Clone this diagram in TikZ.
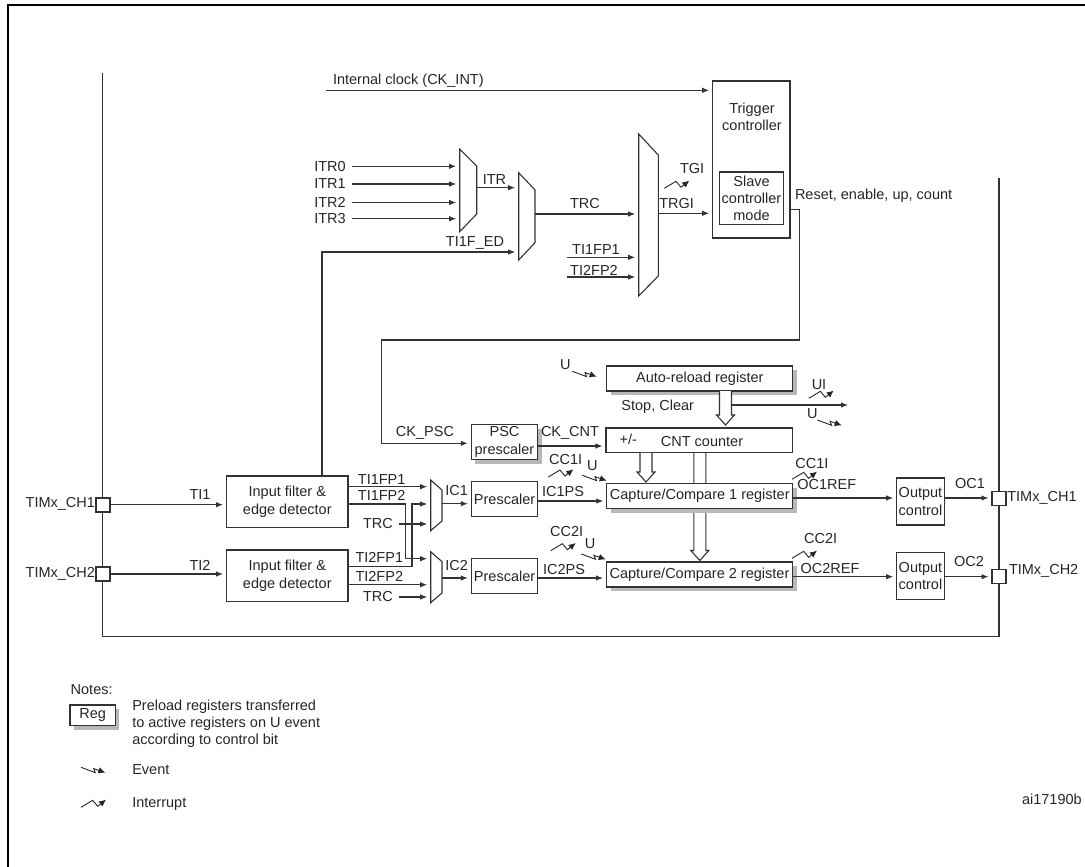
\documentclass[tikz,border=0pt]{standalone}
\usepackage{fontspec}
\setmainfont{Liberation Sans}
\usetikzlibrary{arrows.meta,calc,shadows}
\definecolor{linecol}{gray}{0.2}
\definecolor{shadecol}{gray}{0.72}
\tikzset{
  box/.style={draw=linecol, line width=1.2pt, fill=white, inner sep=0pt, outer sep=0pt, align=center},
  regbox/.style={box, drop shadow={shadow xshift=4pt, shadow yshift=-4pt, fill=shadecol, opacity=1}, minimum width=186pt, minimum height=25pt},
  filterbox/.style={box, minimum width=121.5pt, minimum height=51.7pt},
  prebox/.style={box, minimum width=66.5pt, minimum height=35pt},
  outbox/.style={box, minimum width=47.6pt, minimum height=47pt},
  port/.style={box, minimum width=14pt, minimum height=14pt},
  muxnode/.style={inner sep=0pt, outer sep=0pt},
  lbl/.style={inner sep=0pt, outer sep=0pt, align=center},
  inlbl/.style={lbl, inner xsep=6pt},
  wire/.style={draw=linecol, line width=1.1pt},
  arr/.style={wire, -{Latex[length=7pt,width=5.5pt]}, shorten >=3.5pt},
  hollowarrow/.style={draw=linecol, line width=1.1pt, fill=white, to path={
    let \p1=(\tikztostart), \p2=(\tikztotarget) in
    ({\x1-6pt},\y1) -- ({\x1-6pt},{\y2+10pt}) -- ({\x1-9pt},{\y2+10pt}) -- (\x1,\y2)
    -- ({\x1+9pt},{\y2+10pt}) -- ({\x1+6pt},{\y2+10pt}) -- ({\x1+6pt},\y1)}},
  symline/.style={draw=black!85, line width=0.9pt, -{Latex[length=7pt,width=6.5pt]}},
  pics/intrsym/.style={code={\draw[symline] (0,0) -- (11.7,-7) -- (16.7,-1) -- (25,-7.7);}},
  pics/evtsym/.style={code={\draw[symline] (0,0) -- (14.3,5.3) -- (12.7,1.3) -- (24.4,5.4);}},
}
\begin{document}
\begin{tikzpicture}[x=1pt, y=-1pt, font=\fontsize{14.5}{17.2}\selectfont, text=black!85]
    \useasboundingbox (0,0) rectangle (1085,867);

    % Frame
    \draw[black, line width=2pt] (7.5,867) -- (7.5,5) -- (1085,5);

    % Channel bus
    \coordinate (busleft) at (102.7,73);
    \coordinate (busright) at (999,178);
    \draw[wire] (busleft) -- (102.7,636.7) -- (999,636.7) -- (busright);

    % Ports
    \node[port] (ch1in) at (103,505) {};
    \node[port] (ch2in) at (103,574) {};
    \node[port] (ch1out) at (999,498.3) {};
    \node[port] (ch2out) at (999,576.3) {};
    \node[lbl, anchor=east] (lch1in) at (95,504) {TIMx\_CH1};
    \node[lbl, anchor=east] (lch2in) at (95,574) {TIMx\_CH2};
    \node[lbl, anchor=west] (lch1out) at (1007.3,498) {TIMx\_CH1};
    \node[lbl, anchor=west] (lch2out) at (1009,570.7) {TIMx\_CH2};

    % Multiplexers
    \draw[wire, fill=white] (459.7,149) -- (476.7,166) -- (476.7,214) -- (459.7,231.7) -- cycle;
    \draw[wire, fill=white] (518.7,172.7) -- (535,190) -- (535,242.7) -- (518.7,260) -- cycle;
    \draw[wire, fill=white] (638.7,134) -- (658.3,155) -- (658.3,276) -- (638.7,296) -- cycle;
    \draw[wire, fill=white] (430.7,480) -- (442,490) -- (442,521) -- (430.7,530.7) -- cycle;
    \draw[wire, fill=white] (430.7,551.7) -- (442,561.7) -- (442,593) -- (430.7,602.7) -- cycle;
    \node[muxnode, minimum width=17pt, minimum height=82.7pt] (itrmux) at (468.2,190.3) {};
    \node[muxnode, minimum width=16.3pt, minimum height=87.3pt] (trcmux) at (526.85,216.3) {};
    \node[muxnode, minimum width=19.6pt, minimum height=162pt] (trgimux) at (648.5,215) {};
    \node[muxnode, minimum width=11.3pt, minimum height=50.7pt] (ic1mux) at (436.35,505.3) {};
    \node[muxnode, minimum width=11.3pt, minimum height=51pt] (ic2mux) at (436.35,577.2) {};

    % Trigger controller
    \node[box, minimum width=77.3pt, minimum height=157pt] (trig) at (751.35,159.5) {};
    \node[lbl] (ltrig) at (752,117) {Trigger\\controller};
    \node[box, minimum width=64.4pt, minimum height=52.3pt] (slave) at (751.5,198.15) {Slave\\controller\\mode};

    % Long counter arrow, behind the compare register
    \coordinate (cntlow) at (699.8,452.7);
    \coordinate (cc2tip) at (699.8,560.5);
    \draw[hollowarrow] (cntlow) to (cc2tip);

    % Registers
    \node[regbox] (autoreload) at (699.8,378.5) {Auto-reload register};
    \node[box, minimum width=186.7pt, minimum height=24.7pt] (cnt) at (699.3,440.4) {};
    \node[lbl] (lcnt) at (702,441.7) {CNT counter};
    \node[lbl] (lplus) at (628.3,439.3) {+/-};
    \node[regbox] (cc1) at (699.8,496.2) {Capture/Compare 1 register};
    \node[regbox] (cc2) at (699.5,574.5) {Capture/Compare 2 register};

    % Prescalers
    \node[prebox, drop shadow={shadow xshift=4pt, shadow yshift=-4pt, fill=shadecol, opacity=1}] (psc) at (504.5,442) {PSC\\prescaler};
    \node[prebox] (pre1) at (504.6,499.2) {Prescaler};
    \node[prebox] (pre2) at (504.6,576.3) {Prescaler};

    % Filters
    \node[filterbox] (filt1) at (287.3,501.8) {Input filter \&\\edge detector};
    \node[filterbox] (filt2) at (287.3,575.8) {Input filter \&\\edge detector};

    % Output control
    \node[outbox] (out1) at (920.5,501.5) {Output\\control};
    \node[outbox] (out2) at (920.5,575.7) {Output\\control};

    % Top labels
    \coordinate (ckint) at (325.7,90.3);
    \node[lbl, anchor=west] (lckint) at (333,80.5) {Internal clock (CK\_INT)};
    \node[inlbl, anchor=west] (itr0) at (308.3,166.3) {ITR0};
    \node[inlbl, anchor=west] (itr1) at (308.3,184) {ITR1};
    \node[inlbl, anchor=west] (itr2) at (308.3,202.5) {ITR2};
    \node[inlbl, anchor=west] (itr3) at (308.3,218.7) {ITR3};
    \node[lbl] (litr) at (494.5,180) {ITR};
    \node[lbl] (ltrc) at (585,204) {TRC};
    \node[lbl] (lfed) at (475,242.7) {TI1F\_ED};
    \node[lbl] (lfp1top) at (596,250) {TI1FP1};
    \node[lbl] (lfp2top) at (594,270) {TI2FP2};
    \node[lbl] (ltrgi) at (676.7,204) {TRGI};
    \node[lbl, anchor=west] (ltgi) at (680,169) {TGI};
    \node[lbl, anchor=west] (lreset) at (795,195.5) {Reset, enable, up, count};
    \coordinate (fp1top) at (566.7,257.3);
    \coordinate (fp2top) at (566.7,277);

    % Middle labels
    \node[lbl] (lupre) at (565.3,365) {U};
    \node[lbl] (lstop) at (657.7,406.5) {Stop, Clear};
    \node[lbl] (lui) at (819,384.3) {UI};
    \node[lbl] (luout) at (812.3,414) {U};
    \node[lbl] (lckpsc) at (425,433) {CK\_PSC};
    \node[lbl] (lckcnt) at (570,433) {CK\_CNT};
    \node[lbl] (lcc1l) at (565.7,459.3) {CC1I};
    \node[lbl] (lu1) at (592.3,466) {U};
    \node[lbl] (lcc2l) at (566.7,531.3) {CC2I};
    \node[lbl] (lu2) at (590,544) {U};
    \node[lbl] (lcc1r) at (812,463.3) {CC1I};
    \node[lbl] (lcc2r) at (820.7,539) {CC2I};
    \node[lbl] (lref1) at (826.7,485) {OC1REF};
    \node[lbl] (lref2) at (830,569) {OC2REF};
    \node[lbl] (loc1) at (970,484) {OC1};
    \node[lbl] (loc2) at (969,562) {OC2};

    % Input labels
    \node[lbl] (lti1) at (200,495) {TI1};
    \node[lbl] (lti2) at (200,565) {TI2};
    \node[lbl] (lfp11) at (381.7,480) {TI1FP1};
    \node[lbl] (lfp12) at (381.7,495.7) {TI1FP2};
    \node[lbl] (lfp21) at (379.3,557) {TI2FP1};
    \node[lbl] (lfp22) at (379.3,576.7) {TI2FP2};
    \node[inlbl] (ltrc1) at (378,524) {TRC};
    \node[inlbl] (ltrc2) at (378,597) {TRC};
    \node[lbl] (lic1) at (456.7,491) {IC1};
    \node[lbl] (lic2) at (456.7,566) {IC2};
    \node[lbl] (lic1ps) at (563,492) {IC1PS};
    \node[lbl] (lic2ps) at (564,570) {IC2PS};

    % Top arrows
    \draw[arr] (ckint) -- (trig.west |- ckint);
    \draw[arr] (itr0) -- (itrmux.west |- itr0);
    \draw[arr] (itr1) -- (itrmux.west |- itr1);
    \draw[arr] (itr2) -- (itrmux.west |- itr2);
    \draw[arr] (itr3) -- (itrmux.west |- itr3);
    \draw[arr] (itrmux.east |- 0,187.7) -- (trcmux.west |- 0,187.7);
    \draw[arr] (322,0 |- filt1.north) |- (trcmux.west |- 0,252);
    \draw[arr] (trcmux.east |- 0,214) -- (trgimux.west |- 0,214);
    \draw[arr] (fp1top) -- (trgimux.west |- fp1top);
    \draw[arr] (fp2top) -- (trgimux.west |- fp2top);
    \draw[arr] (trgimux.east |- 0,213.3) -- (trig.west |- 0,213.3);
    \draw[arr] (trig.east |- 0,209.7) -- (799.7,209.7) -- (799.7,340) -- (381.7,340) -- (381.7,443.3) -- (psc.west |- 0,443.3);

    % Counter arrows
    \draw[arr] (psc.east |- 0,446) -- (cnt.west |- 0,446);
    \draw[hollowarrow] (725.5,0 |- autoreload.south) to (725.5,425);
    \draw[hollowarrow] (646,0 |- cnt.south) to (646,482);
    \draw[wire, -{Latex[length=7pt,width=5.5pt]}] (731.7,405) -- (848,405);

    % Input arrows
    \draw[arr] (ch1in.east |- 0,504.7) -- (filt1.west |- 0,504.7);
    \draw[arr] (ch2in.east |- 0,574) -- (filt2.west |- 0,574);
    \draw[arr] (filt1.east |- 0,486.7) -- (ic1mux.west |- 0,486.7);
    \draw[arr] (filt1.east |- 0,504) -- (405.7,504) -- (405.7,558.7) -- (ic2mux.west |- 0,558.7);
    \draw[arr] (filt2.east |- 0,566.7) -- (412,566.7) -- (412,504) -- (ic1mux.west |- 0,504);
    \draw[arr] (filt2.east |- 0,584.7) -- (ic2mux.west |- 0,584.7);
    \draw[arr] (ltrc1) -- (ic1mux.west |- ltrc1);
    \draw[arr] (ltrc2) -- (ic2mux.west |- ltrc2);
    \draw[arr] (ic1mux.east |- 0,503.7) -- (pre1.west |- 0,503.7);
    \draw[arr] (ic2mux.east |- 0,578) -- (pre2.west |- 0,578);
    \draw[arr] (pre1.east |- 0,501) -- (cc1.west |- 0,501);
    \draw[arr] (pre2.east |- 0,578) -- (cc2.west |- 0,578);

    % Output arrows
    \draw[arr] (cc1.east |- 0,498) -- (out1.west |- 0,498);
    \draw[arr] (cc2.east |- 0,576.7) -- (out2.west |- 0,576.7);
    \draw[arr] (out1.east |- 0,498) -- (ch1out.west |- 0,498);
    \draw[arr] (out2.east |- 0,576.7) -- (ch2out.west |- 0,576.7);

    % Interrupt and event marks
    \pic at (664.3,188.3) {intrsym};
    \pic at (548.3,477) {intrsym};
    \pic at (550.7,550.7) {intrsym};
    \pic at (808.7,398.3) {intrsym};
    \pic at (792,479.3) {intrsym};
    \pic at (792,558.3) {intrsym};
    \pic at (572.3,371.3) {evtsym};
    \pic at (582.3,475.3) {evtsym};
    \pic at (581.3,554) {evtsym};
    \pic at (817.3,420) {evtsym};

    % Notes
    \node[lbl, anchor=west] (lnotes) at (70.7,690) {Notes:};
    \node[box, drop shadow={shadow xshift=4pt, shadow yshift=-4pt, fill=shadecol, opacity=1}, minimum width=45.3pt, minimum height=20.7pt] (regkey) at (92.6,715.3) {Reg};
    \node[lbl, anchor=west, align=left] (lpreload) at (132.3,723.7) {Preload registers transferred\\to active registers on U event\\according to control bit};
    \pic at (81,767.3) {evtsym};
    \node[lbl, anchor=west] (levent) at (132.3,770) {Event};
    \pic at (81,807.3) {intrsym};
    \node[lbl, anchor=west] (lintr) at (132.3,804) {Interrupt};
    \node[lbl, anchor=east] (lref) at (1081.7,799) {ai17190b};
\end{tikzpicture}
\end{document}
